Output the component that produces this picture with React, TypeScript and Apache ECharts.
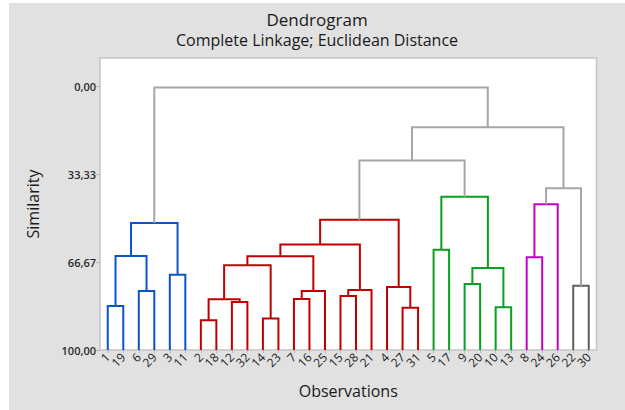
import React, { useEffect, useRef } from "react";
import * as echarts from "echarts";

// Leaf labels in dendrogram order (left to right)
const leafLabels = [
  "1", "19", "6", "29", "3", "11", "2", "18", "12", "32", "14", "23", "7", "16", "25",
  "15", "28", "21", "4", "27", "31", "5", "17", "9", "20", "10", "13", "8", "24", "26", "22", "30",
];

// Merges: node ids < 32 are leaf positions, id 32+k refers to merge k
const mergeLeft = [0, 2, 4, 32, 35, 6, 8, 37, 10, 39, 12, 42, 41, 15, 45, 44, 19, 18, 47, 21, 23, 25, 52, 51, 27, 56, 30, 57, 50, 60, 36];
const mergeRight = [1, 3, 5, 33, 34, 7, 9, 38, 11, 40, 13, 14, 43, 16, 17, 46, 20, 48, 49, 22, 24, 26, 53, 54, 28, 29, 31, 58, 55, 59, 61];
const mergeSimilarity = [83.3, 77.6, 71.4, 64.3, 51.8, 88.7, 81.8, 80.7, 88.0, 67.8, 80.6, 77.6, 64.4, 79.5, 77.2, 59.9, 84.0, 76.1, 50.5, 61.9, 74.9, 83.8, 68.9, 41.8, 64.8, 44.6, 75.6, 38.6, 28.0, 15.4, 0.3];
// cluster colour group of each merge
const mergeGroup = [0, 0, 0, 0, 0, 1, 1, 1, 1, 1, 1, 1, 1, 1, 1, 1, 1, 1, 1, 2, 2, 2, 2, 2, 3, 3, 4, 5, 5, 5, 5];

const groupColors = ["#0a55c4", "#c00000", "#08a020", "#c400c8", "#5f5f5f", "#a6a6a6"];

const yTicks = [0, 100 / 3, 200 / 3, 100];

const FONT = "Open Sans";

export default function App() {
  const ref = useRef<HTMLDivElement>(null);

  useEffect(() => {
    if (!ref.current) return;
    const chart = echarts.init(ref.current, undefined, { renderer: "svg" });

    const nodeX: number[] = leafLabels.map((_, i) => i + 0.5);
    const nodeH: number[] = leafLabels.map(() => 100);
    const links: number[][] = [];
    mergeLeft.forEach((l, k) => {
      const r = mergeRight[k];
      const h = mergeSimilarity[k];
      links.push([nodeX[l], nodeH[l], nodeX[r], nodeH[r], h, mergeGroup[k]]);
      nodeX.push((nodeX[l] + nodeX[r]) / 2);
      nodeH.push(h);
    });

    const fmtY = (v: number) => v.toFixed(2).replace(".", ",");

    chart.setOption({
      animation: false,
      backgroundColor: "transparent",
      textStyle: { fontFamily: FONT },
      title: [
        {
          text: "Dendrogram",
          left: "center",
          top: 7,
          padding: 0,
          textStyle: { fontSize: 17, lineHeight: 18, fontWeight: "normal", color: "#1a1a1a", fontFamily: FONT },
        },
        {
          text: "Complete Linkage; Euclidean Distance",
          left: "center",
          top: 29,
          padding: 0,
          textStyle: { fontSize: 16, lineHeight: 16, fontWeight: "normal", color: "#1a1a1a", fontFamily: FONT },
        },
      ],
      grid: {
        left: 91,
        top: 55,
        width: 496.5,
        height: 292,
        show: true,
        backgroundColor: "#ffffff",
        borderColor: "#c4c4c4",
        borderWidth: 1.5,
      },
      xAxis: [
        {
          type: "category",
          data: leafLabels,
          position: "bottom",
          boundaryGap: true,
          name: "Observations",
          nameLocation: "middle",
          nameGap: 33,
          nameTextStyle: { fontSize: 16, color: "#1a1a1a", fontFamily: FONT },
          axisLine: { show: false, onZero: false },
          splitLine: { show: false },
          axisTick: {
            show: true,
            length: 3,
            alignWithLabel: true,
            interval: 0,
            lineStyle: { color: "#b4b4b4" },
          },
          axisLabel: {
            interval: 0,
            rotate: 45,
            fontSize: 12,
            color: "#222222",
            margin: 5,
            hideOverlap: false,
            fontFamily: FONT,
          },
        },
        {
          type: "value",
          min: 0,
          max: leafLabels.length,
          show: false,
          axisLine: { onZero: false },
          splitLine: { show: false },
        },
      ],
      yAxis: {
        type: "value",
        inverse: true,
        min: -10.9,
        max: 100,
        name: "Similarity",
        nameLocation: "middle",
        nameGap: 59,
        nameTextStyle: { fontSize: 16, color: "#1a1a1a", fontFamily: FONT },
        axisLine: { show: false, onZero: false },
        splitLine: { show: false },
        axisTick: {
          show: true,
          length: 4,
          customValues: yTicks,
          lineStyle: { color: "#b4b4b4" },
        },
        axisLabel: {
          customValues: yTicks,
          formatter: fmtY,
          fontSize: 11,
          fontWeight: 600,
          color: "#2a2a2a",
          margin: 4,
          showMinLabel: true,
          showMaxLabel: true,
          fontFamily: FONT,
        },
      },
      series: [
        {
          type: "custom",
          xAxisIndex: 1,
          encode: { x: [0, 2], y: [1, 3, 4] },
          data: links,
          renderItem: (params: any, api: any) => {
            const xl = api.value(0);
            const hl = api.value(1);
            const xr = api.value(2);
            const hr = api.value(3);
            const h = api.value(4);
            const g = api.value(5);
            const pts = [
              api.coord([xl, hl]),
              api.coord([xl, h]),
              api.coord([xr, h]),
              api.coord([xr, hr]),
            ];
            return {
              type: "polyline",
              shape: { points: pts },
              style: { stroke: groupColors[g], lineWidth: 2, fill: "none" },
            };
          },
        },
      ],
    });

    return () => chart.dispose();
  }, []);

  return (
    <div style={{ position: "fixed", left: 0, top: 0, width: 625, height: 410, background: "#ffffff" }}>
      <div
        ref={ref}
        style={{ position: "absolute", left: 9, top: 3, width: 616, height: 407, background: "#e1e1e1" }}
      />
    </div>
  );
}
